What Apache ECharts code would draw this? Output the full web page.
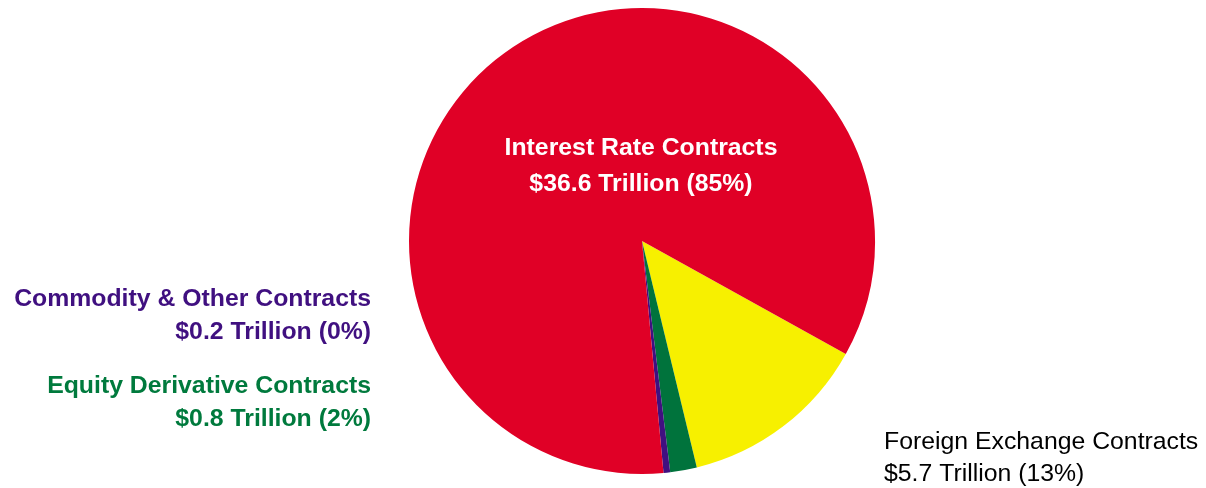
<!DOCTYPE html>
<html><head><meta charset="utf-8">
<script src="https://cdn.jsdelivr.net/npm/echarts@6/dist/echarts.min.js"></script>
<style>html,body{margin:0;padding:0;background:#fff}#c{width:1206px;height:488px}</style>
</head><body><div id="c"></div>
<script>
const names = ['Foreign Exchange Contracts', 'Equity Derivative Contracts', 'Commodity & Other Contracts', 'Interest Rate Contracts'];
const values = [5.7, 0.8, 0.2, 36.6];
const percents = ['13%', '2%', '0%', '85%'];
const colors = ['#F7F000', '#00733C', '#401080', '#E00026'];
const textColors = ['#000000', '#007A3D', '#401080', '#FFFFFF'];
const fontWeights = ['normal', 'bold', 'bold', 'bold'];
const labelPos = [
  {x: 884, y: 458, align: 'left', lh: 32},
  {x: 371, y: 402.5, align: 'right', lh: 33},
  {x: 371, y: 315.5, align: 'right', lh: 33},
  {x: 641, y: 166.5, align: 'center', lh: 36}
];
const chart = echarts.init(document.getElementById('c'));
chart.setOption({
  animation: false,
  series: [{
    type: 'pie',
    center: [642, 241],
    radius: [0, 233],
    startAngle: -29,
    clockwise: true,
    avoidLabelOverlap: false,
    data: names.map((n, i) => ({
      name: n, value: values[i],
      itemStyle: {color: colors[i]},
      label: {
        show: true,
        position: 'outside',
        formatter: n + '\n$' + values[i].toFixed(1) + ' Trillion (' + percents[i] + ')',
        color: textColors[i],
        fontWeight: fontWeights[i],
        fontSize: 24.8,
        fontFamily: "'Liberation Sans', Arial, sans-serif",
        lineHeight: labelPos[i].lh,
        align: labelPos[i].align
      },
      labelLine: {show: false}
    })),
    labelLayout: function (p) {
      const lp = labelPos[p.dataIndex];
      return {x: lp.x, y: lp.y, align: lp.align, verticalAlign: 'middle'};
    }
  }]
});
</script></body></html>
